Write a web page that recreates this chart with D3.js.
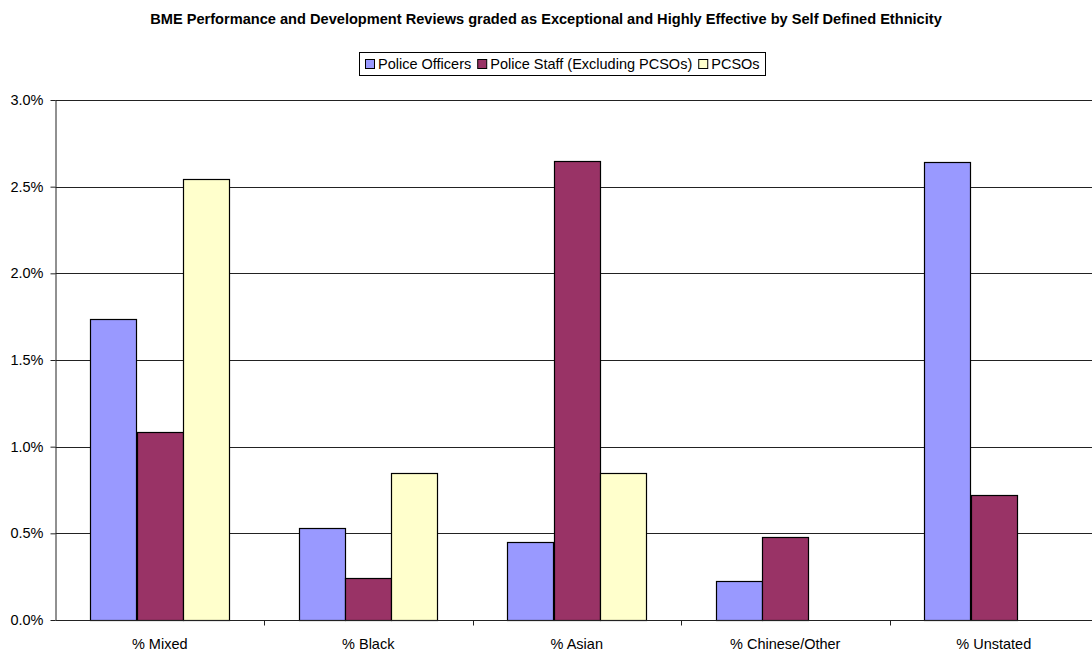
<!DOCTYPE html>
<html>
<head>
<meta charset="utf-8">
<script src="https://cdn.jsdelivr.net/npm/d3@7"></script>
<style>
  html, body { margin: 0; padding: 0; background: #fff; }
  svg { display: block; font-family: "Liberation Sans", Arial, sans-serif; }
</style>
</head>
<body>
<svg id="chart" width="1092" height="651"></svg>
<script>
// Ethnicity groups along the x axis
const categories = ["% Mixed", "% Black", "% Asian", "% Chinese/Other", "% Unstated"];
// Workforce groups (one bar each per category)
const seriesNames = ["Police Officers", "Police Staff (Excluding PCSOs)", "PCSOs"];
// Share of reviews graded Exceptional / Highly Effective, in percent
const policeOfficers = [1.737, 0.529, 0.452, 0.227, 2.645];
const policeStaff    = [1.085, 0.240, 2.647, 0.481, 0.721];
const pcsos          = [2.544, 0.846, 0.846, null, null];
// Value axis ticks, in percent
const yTicks = [0, 0.5, 1.0, 1.5, 2.0, 2.5, 3.0];

const seriesValues = [policeOfficers, policeStaff, pcsos];
const colors = ["#9999FF", "#993366", "#FFFFCC"];
const FONT = 14.5;

const svg = d3.select("#chart");
const plot = { left: 55.5, top: 100, right: 1098, bottom: 620 };

const x = d3.scaleBand().domain(categories).range([plot.left, plot.right]).paddingInner(0).paddingOuter(0);
// gap between groups is 150% of one bar width
const x1 = d3.scaleBand().domain(seriesNames.map((_, i) => i))
  .range([0, x.bandwidth()]).paddingInner(0).paddingOuter(0.75);
const y = d3.scaleLinear().domain([0, 3]).range([plot.bottom, plot.top]);

// Horizontal gridlines
svg.append("g").selectAll("line").data(yTicks.slice(1)).join("line")
  .attr("x1", plot.left).attr("x2", 1092)
  .attr("y1", d => Math.round(y(d)) + 0.5).attr("y2", d => Math.round(y(d)) + 0.5)
  .attr("stroke", "#222").attr("stroke-width", 1);

// Bars
const rows = [];
categories.forEach((c, ci) => seriesValues.forEach((vals, si) => {
  if (vals[ci] != null) rows.push({ c, si, v: vals[ci] });
}));
svg.append("g").selectAll("rect").data(rows).join("rect")
  .attr("x", d => Math.round(x(d.c) + x1(d.si)) + 0.5)
  .attr("y", d => Math.round(y(d.v)) + 0.5)
  .attr("width", d => Math.round(x1.bandwidth()))
  .attr("height", d => Math.round(y(0)) - Math.round(y(d.v)))
  .attr("fill", d => colors[d.si])
  .attr("stroke", "#000").attr("stroke-width", 1.2);

// Value axis
const yAxis = d3.axisLeft(y).tickValues(yTicks).tickFormat(d => d.toFixed(1) + "%").tickSize(5).tickPadding(7);
const gy = svg.append("g").attr("transform", `translate(${plot.left},0)`).call(yAxis);
gy.select(".domain").attr("d", `M0.5,${plot.top}V${plot.bottom + 0.5}`).attr("stroke", "#222");
gy.selectAll(".tick line").attr("stroke", "#222");
gy.selectAll(".tick text").attr("font-size", FONT).attr("fill", "#000")
  .attr("font-family", "'Liberation Sans', Arial, sans-serif");

// Category axis with tick marks at group boundaries
const gx = svg.append("g").attr("transform", `translate(0,${Math.round(y(0)) + 0.5})`);
gx.append("line").attr("x1", plot.left).attr("x2", 1092).attr("stroke", "#222");
gx.selectAll("line.tk").data(categories.slice(1)).join("line").attr("class", "tk")
  .attr("x1", d => Math.round(x(d)) + 0.5).attr("x2", d => Math.round(x(d)) + 0.5)
  .attr("y1", 0).attr("y2", 5).attr("stroke", "#222");
gx.selectAll("text").data(categories).join("text")
  .attr("x", d => x(d) + x.bandwidth() / 2).attr("y", 28)
  .attr("text-anchor", "middle").attr("font-size", FONT).text(d => d);

// Title
svg.append("text").attr("x", 546).attr("y", 24).attr("text-anchor", "middle")
  .attr("font-size", 14.6).attr("font-weight", "bold").text("BME Performance and Development Reviews graded as Exceptional and Highly Effective by Self Defined Ethnicity");

// Legend
const legend = svg.append("g");
const items = legend.selectAll("g").data(seriesNames).join("g");
let cx = 0;
items.each(function (d, i) {
  const g = d3.select(this);
  g.append("rect").attr("x", cx + 0.5).attr("y", -9.5).attr("width", 9).attr("height", 9)
    .attr("fill", colors[i]).attr("stroke", "#000");
  const t = g.append("text").attr("x", cx + 13).attr("y", 0).attr("font-size", FONT).text(d);
  cx += 13 + t.node().getComputedTextLength() + 6;
});
const legW = cx + 5;
const legX = Math.round(562 - legW / 2);
legend.attr("transform", `translate(${legX + 6},69)`);
svg.insert("rect", "g").attr("x", legX + 0.5).attr("y", 52.5).attr("width", Math.round(legW)).attr("height", 23)
  .attr("fill", "#fff").attr("stroke", "#000");
</script>
</body>
</html>
